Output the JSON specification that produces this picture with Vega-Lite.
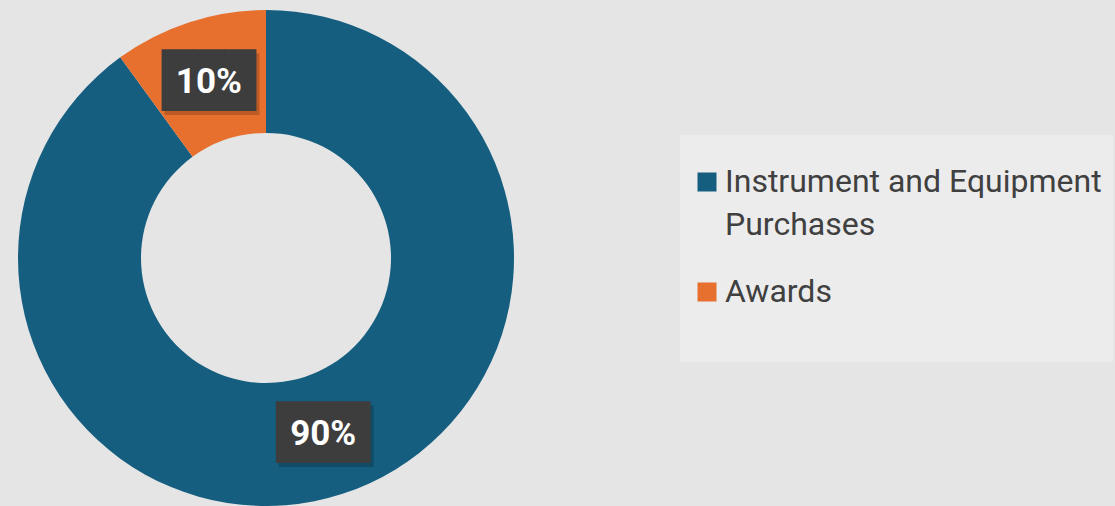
{
  "$schema": "https://vega.github.io/schema/vega-lite/v6.json",
  "autosize": "none",
  "width": 496,
  "height": 496,
  "padding": {"left": 18, "top": 10, "right": 601, "bottom": 0},
  "background": "#e5e5e5",
  "config": {"view": {"stroke": null}, "style": {"guide-label": {"lineHeight": 43}}},
  "data": {
    "values": [
      {"category": "Instrument and Equipment Purchases", "value": 90, "label": "90%"},
      {"category": "Awards", "value": 10, "label": "10%"}
    ]
  },
  "encoding": {
    "theta": {"field": "value", "type": "quantitative", "stack": true},
    "order": {"field": "value", "type": "quantitative", "sort": "descending"}
  },
  "layer": [
    {
      "mark": {"type": "arc", "innerRadius": 125, "outerRadius": 248},
      "encoding": {
        "color": {
          "field": "category",
          "type": "nominal",
          "sort": ["Instrument and Equipment Purchases", "Awards"],
          "scale": {"domain": ["Instrument and Equipment Purchases", "Awards"], "range": ["#155E7F", "#E7702F"]},
          "legend": {
            "orient": "none",
            "legendX": 662,
            "legendY": 125,
            "title": " ",
            "titleFontSize": 10,
            "titlePadding": 10,
            "symbolType": "square",
            "symbolSize": 361,
            "symbolStrokeWidth": 0,
            "labelFont": "Roboto",
            "labelFontSize": 32,
            "labelColor": "#404040",
            "labelLimit": 600,
            "labelOffset": 2,
            "fillColor": "#ececec",
            "padding": 11,
            "rowPadding": 35,
            "labelExpr": "datum.label == 'Instrument and Equipment Purchases' ? ['Instrument and Equipment', 'Purchases'] : [datum.label, ' ']"
          }
        }
      }
    },
    {
      "mark": {"type": "text", "radius": 185, "text": "███", "font": "DejaVu Sans Mono", "fontSize": 52, "fill": "#000000", "opacity": 0.18, "dx": 3, "dy": 4, "baseline": "middle", "align": "center"},
      "encoding": {"detail": {"field": "category"}}
    },
    {
      "mark": {"type": "text", "radius": 185, "text": "███", "font": "DejaVu Sans Mono", "fontSize": 52, "fill": "#3d3d3d", "baseline": "middle", "align": "center"},
      "encoding": {"detail": {"field": "category"}}
    },
    {
      "mark": {"type": "text", "radius": 185, "font": "Roboto", "fontWeight": "bold", "fontSize": 35, "fill": "#ffffff", "baseline": "middle", "align": "center"},
      "encoding": {"detail": {"field": "category"}, "text": {"field": "label"}}
    }
  ]
}
